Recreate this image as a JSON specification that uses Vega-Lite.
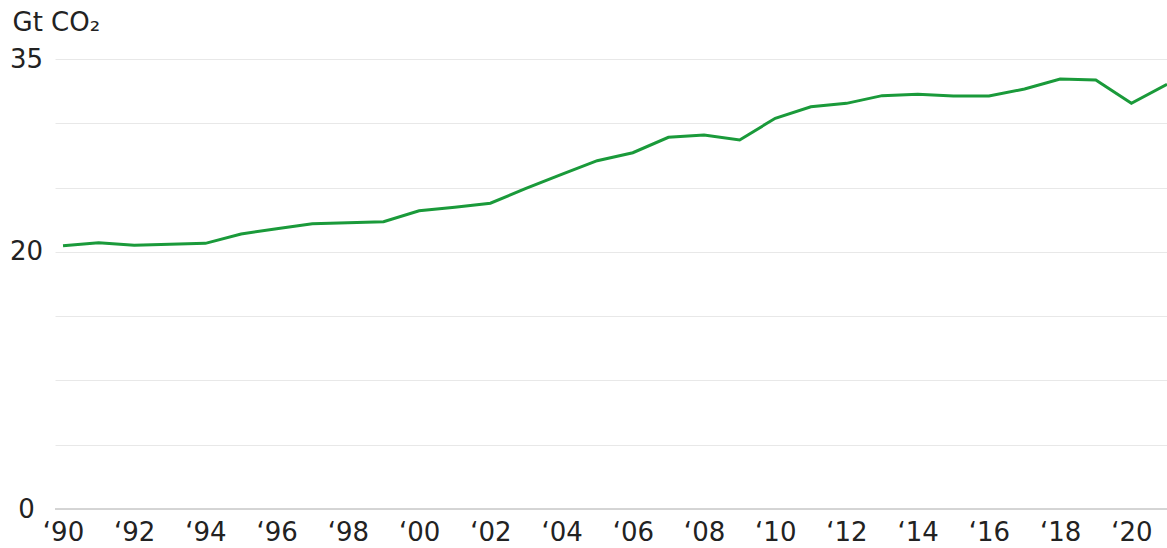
{
  "$schema": "https://vega.github.io/schema/vega-lite/v6.json",
  "width": 1112,
  "height": 450,
  "autosize": {"type": "none"},
  "padding": {"left": 55, "top": 59, "right": 0, "bottom": 39},
  "background": "white",
  "config": {"view": {"stroke": null}, "font": "DejaVu Sans"},
  "data": {"values": [
    {"year": 1990, "value": 20.48},
    {"year": 1991, "value": 20.71},
    {"year": 1992, "value": 20.51},
    {"year": 1993, "value": 20.59},
    {"year": 1994, "value": 20.66},
    {"year": 1995, "value": 21.39},
    {"year": 1996, "value": 21.8},
    {"year": 1997, "value": 22.19},
    {"year": 1998, "value": 22.27},
    {"year": 1999, "value": 22.35},
    {"year": 2000, "value": 23.2},
    {"year": 2001, "value": 23.47},
    {"year": 2002, "value": 23.78},
    {"year": 2003, "value": 24.94},
    {"year": 2004, "value": 26.03},
    {"year": 2005, "value": 27.09},
    {"year": 2006, "value": 27.71},
    {"year": 2007, "value": 28.91},
    {"year": 2008, "value": 29.09},
    {"year": 2009, "value": 28.7},
    {"year": 2010, "value": 30.39},
    {"year": 2011, "value": 31.29},
    {"year": 2012, "value": 31.55},
    {"year": 2013, "value": 32.15},
    {"year": 2014, "value": 32.25},
    {"year": 2015, "value": 32.12},
    {"year": 2016, "value": 32.12},
    {"year": 2017, "value": 32.67},
    {"year": 2018, "value": 33.44},
    {"year": 2019, "value": 33.37},
    {"year": 2020, "value": 31.55},
    {"year": 2021, "value": 33.03}
  ]},
  "layer": [
    {
      "mark": {"type": "rule", "color": "#d4d4d4", "strokeWidth": 1},
      "encoding": {"y": {"datum": 0, "type": "quantitative"}}
    },
    {
      "mark": {"type": "line", "color": "#1a9a3a", "strokeWidth": 3, "clip": true},
      "encoding": {
        "x": {
          "field": "year",
          "type": "quantitative",
          "scale": {"domain": [1989.775, 2021], "nice": false, "zero": false},
          "axis": {
            "title": null,
            "values": [1990, 1992, 1994, 1996, 1998, 2000, 2002, 2004, 2006, 2008, 2010, 2012, 2014, 2016, 2018, 2020],
            "format": "d",
            "labelExpr": "'‘' + substring(datum.label, 2, 4)",
            "grid": false,
            "ticks": false,
            "tickSize": 0,
            "domain": false,
            "labelFontSize": 26,
            "labelColor": "#222222",
            "labelBaseline": "alphabetic",
            "labelPadding": 31,
            "labelFlush": false,
            "labelOverlap": false
          }
        },
        "y": {
          "field": "value",
          "type": "quantitative",
          "scale": {"domain": [0, 35], "nice": false},
          "axis": {
            "title": "Gt CO₂",
            "titleAngle": 0,
            "titleX": -43,
            "titleY": -29,
            "titleAlign": "left",
            "titleBaseline": "alphabetic",
            "titleFontSize": 26,
            "titleFontWeight": "normal",
            "titleColor": "#222222",
            "values": [0, 5, 10, 15, 20, 25, 30, 35],
            "labelExpr": "datum.value == 0 || datum.value == 20 || datum.value == 35 ? datum.label : ''",
            "grid": true,
            "gridColor": "#e8e8e8",
            "gridWidth": 1,
            "ticks": false,
            "tickSize": 0,
            "domain": false,
            "labelFontSize": 26,
            "labelColor": "#222222",
            "labelAlign": "center",
            "labelBaseline": "middle",
            "labelPadding": 29,
            "labelFlush": false,
            "labelOverlap": false
          }
        }
      }
    }
  ]
}
